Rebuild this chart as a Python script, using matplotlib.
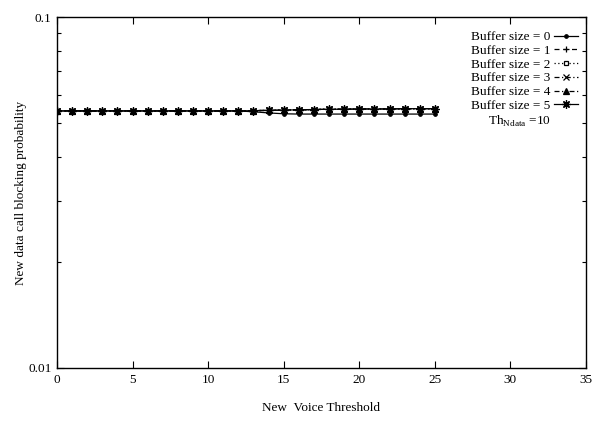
import numpy as np
import matplotlib
matplotlib.use("Agg")
import matplotlib.pyplot as plt
from matplotlib.ticker import FixedLocator, NullFormatter, FixedFormatter

plt.rcParams["font.family"] = ["Liberation Serif", "DejaVu Serif"]
plt.rcParams["mathtext.fontset"] = "custom"
plt.rcParams["mathtext.rm"] = "Liberation Serif"

# ── 数据 ─────────────────────────────────────────────
thresholds = list(range(0, 26))
buf0 = [0.0540] * 13 + [0.0537, 0.0533, 0.0530, 0.0529, 0.0529, 0.0529, 0.0529,
                        0.0529, 0.0529, 0.0529, 0.0529, 0.0529, 0.0529, 0.0529]
buf1 = [0.0540] * 13 + [0.0541, 0.0542, 0.0543, 0.0544, 0.0545, 0.0546, 0.0546,
                        0.0547, 0.0547, 0.0547, 0.0548, 0.0548, 0.0548]
buf2 = list(buf1)
buf3 = list(buf1)
buf4 = list(buf1)
buf5 = list(buf1)
labels = ["Buffer size = 0", "Buffer size = 1", "Buffer size = 2",
          "Buffer size = 3", "Buffer size = 4", "Buffer size = 5"]

fig = plt.figure(figsize=(5.96, 4.21), dpi=100)
ax = fig.add_axes([57 / 596, 1 - 368 / 421, 529 / 596, 351 / 421])

styles = [
    dict(marker="o", ms=2.5, ls="-", mfc="black"),
    dict(marker="+", ms=5, ls=(0, (4, 3))),
    dict(marker="s", ms=3.5, ls=(0, (1, 2)), mfc="white"),
    dict(marker="x", ms=4, ls=(0, (4, 2, 1, 2))),
    dict(marker="^", ms=4, ls=(0, (4, 2, 1, 2, 1, 2)), mfc="black"),
    dict(marker=(8, 2, 0), ms=6, ls="-"),
]
series = [buf0[:26], buf1, buf2, buf3, buf4, buf5]
for ys, lab, st in zip(series, labels, styles):
    ax.plot(thresholds, ys, color="black", lw=0.9, mew=0.9, label=lab, **st)

ax.set_yscale("log")
ax.set_xlim(0, 35)
ax.set_ylim(0.01, 0.1)
ax.xaxis.set_major_locator(FixedLocator([0, 5, 10, 15, 20, 25, 30, 35]))
ax.yaxis.set_major_locator(FixedLocator([0.01, 0.1]))
ax.yaxis.set_major_formatter(FixedFormatter(["0.01", "0.1"]))
ax.yaxis.set_minor_locator(FixedLocator([i / 100 for i in range(2, 10)]))
ax.yaxis.set_minor_formatter(NullFormatter())
ax.tick_params(which="both", direction="in", top=True, right=True,
               labelsize=9.5, width=0.8)
ax.tick_params(which="major", length=5, pad=4)
ax.tick_params(which="minor", length=3)
for sp in ax.spines.values():
    sp.set_linewidth(1.0)

ax.set_xlabel("New  Voice Threshold", fontsize=9.5, labelpad=12)
ax.set_ylabel("New data call blocking probability", fontsize=9.5, labelpad=1)

leg = ax.legend(loc="upper right", frameon=False, markerfirst=False,
                fontsize=9.5, handlelength=1.8, labelspacing=0.115,
                borderaxespad=0, borderpad=0, handletextpad=0.3,
                bbox_to_anchor=(1 - 8 / 529, 1 - 14 / 351))
ax.text(0.934, 0.703, r"Th$_{\mathrm{Ndata}}$ =10", transform=ax.transAxes,
        ha="right", va="center", fontsize=9.5)

fig.savefig("out.png", dpi=100)
